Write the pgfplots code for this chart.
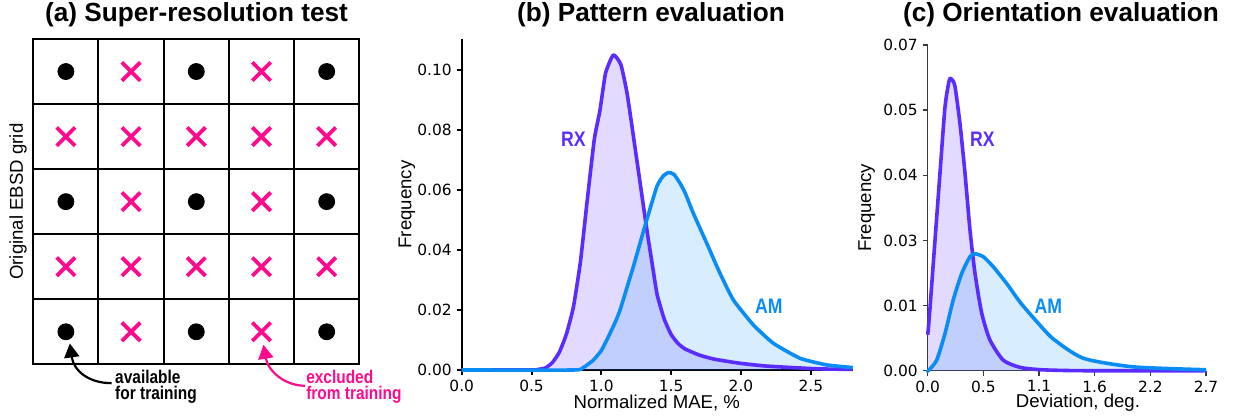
\documentclass[border=0pt]{standalone}
\usepackage{fontspec}
\setmainfont{Liberation Sans}
\newfontfamily\tickfont{DejaVu Sans}
\newfontfamily\condfont[FakeStretch=0.84]{Liberation Sans}
\usepackage{pgfplots}
\usepackage{pgfplotstable}
\pgfplotsset{compat=1.18}
\usetikzlibrary{arrows.meta}

\definecolor{rx}{HTML}{5B2CFF}
\definecolor{am}{HTML}{0A8CF5}
\definecolor{xpink}{HTML}{FF0A8C}
\definecolor{axgray}{HTML}{3A3A3A}

% (b) pattern evaluation: normalized MAE (%) vs frequency
\pgfplotstableread{
x y
0.00 0.0
0.50 0.0
0.55 0.0002
0.60 0.0007
0.65 0.0025
0.70 0.006
0.75 0.012
0.80 0.021
0.85 0.036
0.90 0.057
0.95 0.077
0.99 0.0865
1.03 0.0989
1.086 0.105
1.14 0.1017
1.186 0.0917
1.254 0.070
1.325 0.0470
1.372 0.033
1.40 0.025
1.45 0.0170
1.50 0.0118
1.55 0.0088
1.60 0.0070
1.70 0.0050
1.80 0.0037
1.90 0.0029
2.00 0.0022
2.185 0.0013
2.54 0.0004
2.80 0.0002
}\rxb
\pgfplotstableread{
x y
0.00 0.0
0.80 0.0
0.87 0.0008
0.943 0.0033
1.00 0.0065
1.039 0.010
1.10 0.016
1.134 0.020
1.20 0.030
1.229 0.0344
1.30 0.046
1.325 0.050
1.397 0.0611
1.44 0.0645
1.48 0.0658
1.52 0.0652
1.564 0.0622
1.60 0.0590
1.659 0.0522
1.755 0.0422
1.85 0.0322
1.946 0.0233
2.089 0.0150
2.232 0.0089
2.423 0.0039
2.614 0.0017
2.80 0.0008
}\amb
% (c) orientation evaluation: deviation (deg.) vs frequency
\pgfplotstableread{
x y
0.000 0.0075
0.016 0.0113
0.071 0.0273
0.119 0.0412
0.168 0.0551
0.210 0.0607
0.235 0.0608
0.265 0.0593
0.313 0.0516
0.362 0.0412
0.410 0.0294
0.459 0.0203
0.524 0.0120
0.604 0.0064
0.733 0.0022
0.895 0.0007
1.100 0.0002
1.500 0.0
2.700 0.0
}\rxc
\pgfplotstableread{
x y
0.000 0.0
0.006 0.0
0.087 0.0022
0.168 0.0078
0.248 0.0148
0.330 0.0203
0.410 0.0238
0.459 0.0244
0.539 0.0238
0.636 0.0217
0.766 0.0182
0.900 0.0142
1.060 0.0102
1.220 0.0066
1.510 0.0026
1.995 0.0008
2.700 0.0002
}\amc
% (a) grid points
\pgfplotstableread{
x y
0.5 4.5
2.5 4.5
4.5 4.5
0.5 2.5
2.5 2.5
4.5 2.5
0.5 0.5
2.5 0.5
4.5 0.5
}\kept
\pgfplotstableread{
x y
1.5 4.5
3.5 4.5
0.5 3.5
1.5 3.5
2.5 3.5
3.5 3.5
4.5 3.5
1.5 2.5
3.5 2.5
0.5 1.5
1.5 1.5
2.5 1.5
3.5 1.5
4.5 1.5
1.5 0.5
3.5 0.5
}\dropped

\pgfplotsset{
  curve/.style={line width=1.8pt, line join=round},
  panel/.style={
    scale only axis, clip=false,
    axis x line=bottom, axis y line=left,
    tick align=outside, major tick length=2.5pt,
    scaled ticks=false,
    tick label style={font=\tickfont\fontsize{7.7}{9}\selectfont, inner sep=1pt},
    x tick label style={yshift=-1.3pt},
    y tick label style={xshift=-1.3pt},
    label style={font=\fontsize{9.3}{11}\selectfont, inner sep=0pt},
    ylabel={Frequency},
  },
}

\begin{document}
\begin{tikzpicture}
\useasboundingbox (0,0) rectangle (618pt,208.5pt);

% titles
\node[font=\bfseries\fontsize{13.1}{15}\selectfont] at (98.25pt,201.3pt) {(a) Super-resolution test};
\node[font=\bfseries\fontsize{13.1}{15}\selectfont] at (325.5pt,201.3pt) {(b) Pattern evaluation};
\node[font=\bfseries\fontsize{13.1}{15}\selectfont] at (530.5pt,201.3pt) {(c) Orientation evaluation};

% (a)
\begin{axis}[
  at={(16.65pt,26.35pt)}, anchor=south west,
  scale only axis, clip=false,
  width=163pt, height=162.65pt,
  xmin=0, xmax=5, ymin=0, ymax=5,
  xtick={1,2,3,4}, ytick={1,2,3,4},
  xticklabels={}, yticklabels={},
  major tick length=0pt,
  xmajorgrids, ymajorgrids,
  major grid style={black, line width=1pt},
  axis line style={black, line width=1pt},
  ylabel={Original EBSD grid},
  ylabel style={at={(axis description cs:-0.047,0.5)}, anchor=center, font=\fontsize{9.3}{11}\selectfont},
]
\addplot[only marks, mark=*, mark size=4pt, black] table {\kept};
\addplot[only marks, mark=x, mark size=6.5pt, xpink, mark options={line width=1.9pt}] table {\dropped};
\draw[black, line width=1.1pt, -{Triangle[length=7pt,width=7.5pt]}]
  (axis cs:1.2,-0.29) .. controls (axis cs:0.85,-0.29) and (axis cs:0.62,-0.1) .. (axis cs:0.56,0.32);
\draw[xpink, line width=1.1pt, -{Triangle[length=7pt,width=7.5pt]}]
  (axis cs:4.17,-0.33) .. controls (axis cs:3.85,-0.33) and (axis cs:3.6,-0.1) .. (axis cs:3.53,0.30);
\node[anchor=west, align=left, inner sep=1pt, font=\condfont\bfseries\fontsize{9.2}{8}\selectfont]
  at (axis cs:1.22,-0.35) {available\\for training};
\node[anchor=west, align=left, inner sep=1pt, text=xpink, font=\condfont\bfseries\fontsize{9.2}{8}\selectfont]
  at (axis cs:4.15,-0.35) {excluded\\from training};
\end{axis}

% (b)
\begin{axis}[panel,
  at={(230.85pt,23.5pt)}, anchor=south west,
  width=195.5pt, height=165.5pt,
  xmin=0, xmax=2.8, ymin=0, ymax=0.1103,
  xtick={0,0.5,1,1.5,2,2.5}, xticklabels={0.0,0.5,1.0,1.5,2.0,2.5},
  ytick={0,0.02,0.04,0.06,0.08,0.10},
  yticklabels={0.00,0.02,0.04,0.06,0.08,0.10},
  axis line style={black, line width=1pt, -},
  every tick/.style={black, line width=1pt},
  xlabel={Normalized MAE, \%},
  xlabel style={at={(axis description cs:0.499,-0.0997)}, anchor=center},
  ylabel style={at={(axis description cs:-0.14,0.5)}, anchor=center},
]
\addplot[draw=none, fill=rx, fill opacity=0.17, smooth, tension=0.3] table {\rxb} \closedcycle;
\addplot[draw=none, fill=am, fill opacity=0.16, smooth, tension=0.3] table {\amb} \closedcycle;
\addplot[curve, rx, smooth, tension=0.3] table {\rxb};
\addplot[curve, am, smooth, tension=0.3] table {\amb};
\node[text=rx, font=\condfont\bfseries\fontsize{10.5}{12}\selectfont] at (axis cs:0.80,0.0769) {RX};
\node[text=am, font=\condfont\bfseries\fontsize{10.5}{12}\selectfont] at (axis cs:2.20,0.0213) {AM};
\end{axis}

% (c)
\begin{axis}[panel,
  at={(463.85pt,23.15pt)}, anchor=south west,
  width=139.15pt, height=162.85pt,
  xmin=0, xmax=2.7, ymin=0, ymax=0.068,
  xtick={0,0.54,1.08,1.62,2.16,2.7}, xticklabels={0.0,0.5,1.1,1.6,2.2,2.7},
  ytick={0,0.0136,0.0272,0.0408,0.0544,0.068},
  yticklabels={0.00,0.01,0.03,0.04,0.05,0.07},
  axis line style={axgray, line width=0.7pt, -},
  every tick/.style={axgray, line width=0.7pt},
  xlabel={Deviation, deg.},
  xlabel style={at={(axis description cs:0.54,-0.099)}, anchor=center},
  ylabel style={at={(axis description cs:-0.219,0.5)}, anchor=center},
]
\addplot[draw=none, fill=rx, fill opacity=0.17, smooth, tension=0.4] table {\rxc} \closedcycle;
\addplot[draw=none, fill=am, fill opacity=0.16, smooth, tension=0.4] table {\amc} \closedcycle;
\addplot[curve, rx, smooth, tension=0.4] table {\rxc};
\addplot[curve, am, smooth, tension=0.4] table {\amc};
\node[text=rx, font=\condfont\bfseries\fontsize{10.5}{12}\selectfont] at (axis cs:0.53,0.0483) {RX};
\node[text=am, font=\condfont\bfseries\fontsize{10.5}{12}\selectfont] at (axis cs:1.17,0.0135) {AM};
\end{axis}
\end{tikzpicture}
\end{document}
